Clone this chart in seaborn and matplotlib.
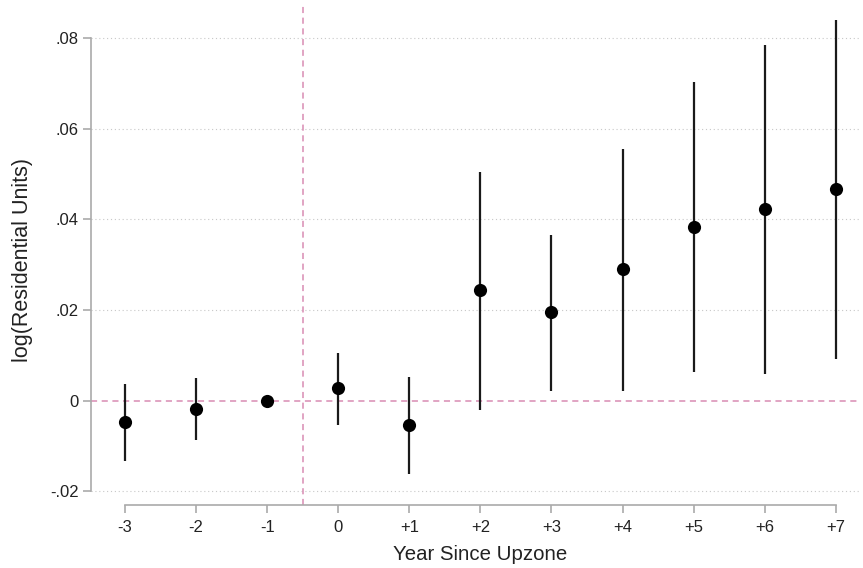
import numpy as np
import pandas as pd
import matplotlib
matplotlib.use("Agg")
import matplotlib.pyplot as plt
import seaborn as sns

# event-study estimates
years = [-3, -2, -1, 0, 1, 2, 3, 4, 5, 6, 7]
year_labels = ["-3", "-2", "-1", "0", "+1", "+2", "+3", "+4", "+5", "+6", "+7"]
coef = [-0.0047, -0.0018, 0.0, 0.0027, -0.0053, 0.0244, 0.0195, 0.0290, 0.0383, 0.0423, 0.0468]
ci_low = [-0.0133, -0.0086, 0.0, -0.0053, -0.0162, -0.0020, 0.0022, 0.0022, 0.0064, 0.0060, 0.0093]
ci_high = [0.0038, 0.0051, 0.0, 0.0106, 0.0053, 0.0505, 0.0366, 0.0556, 0.0702, 0.0784, 0.0840]
y_ticks = [-0.02, 0, 0.02, 0.04, 0.06, 0.08]
y_tick_labels = ["-.02", "0", ".02", ".04", ".06", ".08"]

df = pd.DataFrame({"year": years, "coef": coef, "lo": ci_low, "hi": ci_high})

sns.set_style("white")
plt.rcParams["font.family"] = ["Liberation Sans", "DejaVu Sans"]

fig = plt.figure(figsize=(8.63, 5.68), dpi=100)
ax = fig.add_axes([0.1054, 0.1109, 0.891, 0.878])

pink = "#d88bb3"
for y in y_ticks:
    if y != 0:
        ax.axhline(y, color="#c8c8c8", linestyle=(0, (1, 2.5)), linewidth=0.8, zorder=0)
ax.axhline(0, color=pink, linestyle=(0, (4, 3)), linewidth=1.1, zorder=1)
ax.axvline(-0.5, color=pink, linestyle=(0, (4, 3)), linewidth=1.1, zorder=1)

# confidence intervals (skip the omitted year)
ci = df[df["hi"] != df["lo"]]
ax.vlines(ci["year"], ci["lo"], ci["hi"], color="#1a1a1a", linewidth=1.6, zorder=2)
sns.scatterplot(data=df, x="year", y="coef", ax=ax, color="black", s=90,
                edgecolor="black", linewidth=0, zorder=3, legend=False)

ax.set_xlim(-3.48, 7.34)
ax.set_ylim(-0.023, 0.087)
ax.set_xticks(years)
ax.set_xticklabels(year_labels)
ax.set_yticks(y_ticks)
ax.set_yticklabels(y_tick_labels)

for side in ["top", "right"]:
    ax.spines[side].set_visible(False)
for side in ["left", "bottom"]:
    ax.spines[side].set_color("#aaaaaa")
    ax.spines[side].set_linewidth(1.2)
ax.spines["left"].set_bounds(-0.02, 0.08)
ax.spines["bottom"].set_bounds(-3, 7)
ax.tick_params(axis="both", bottom=True, left=True, colors="#aaaaaa",
               labelcolor="#222222", length=6, width=1.2, labelsize=12,
               direction="out")
ax.tick_params(axis="x", pad=5)
ax.tick_params(axis="y", pad=3)

ax.set_xlabel("Year Since Upzone", fontsize=14.7, color="#222222")
ax.set_ylabel("log(Residential Units)", fontsize=15.5, color="#222222")
ax.xaxis.set_label_coords(0.5065, -0.080)
ax.yaxis.set_label_coords(-0.0754, 0.491)

fig.savefig("out.png", dpi=100)
